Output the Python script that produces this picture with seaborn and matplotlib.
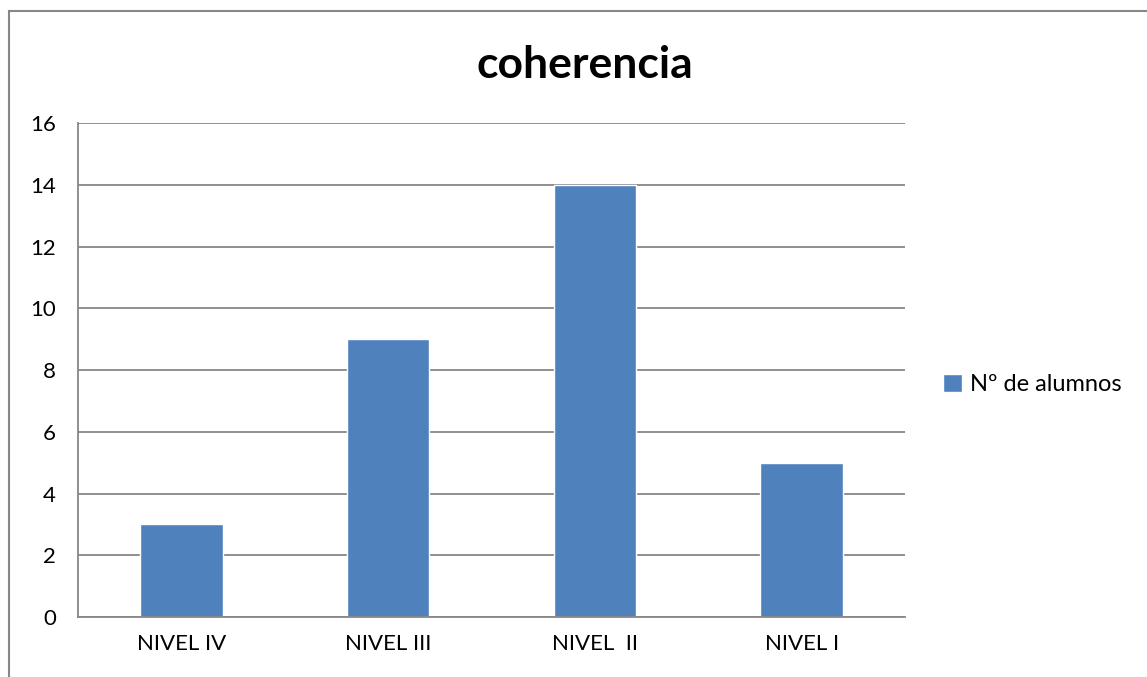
import matplotlib
matplotlib.use("Agg")
import matplotlib.pyplot as plt
import seaborn as sns
import pandas as pd
from matplotlib.patches import Rectangle

# data
niveles = ["NIVEL IV", "NIVEL III", "NIVEL  II", "NIVEL I"]
alumnos = [3, 9, 14, 5]
serie = "Nº de alumnos"
titulo = "coherencia"

df = pd.DataFrame({"nivel": niveles, "alumnos": alumnos})

sns.set_style("white")
plt.rcParams["font.family"] = ["Lato", "DejaVu Sans"]
plt.rcParams["text.color"] = "black"
plt.rcParams["xtick.labelcolor"] = "black"
plt.rcParams["ytick.labelcolor"] = "black"

gris = "#878787"
azul = "#4F81BD"

fig = plt.figure(figsize=(11.47, 6.77), dpi=100)
ax = fig.add_axes([0.068, 0.0886, 0.721, 0.7297])

# outer chart border (runs off the right and bottom edges)
fig.patches.append(Rectangle((9 / 1147, -0.05), 1.2, 1 - 11 / 677 + 0.05,
                             transform=fig.transFigure, fill=False,
                             edgecolor=gris, linewidth=1.5))

sns.barplot(data=df, x="nivel", y="alumnos", color=azul, width=0.4,
            saturation=1, label=serie, ax=ax)

ax.set_ylim(0, 16)
ax.set_yticks(range(0, 17, 2))
ax.set_xlim(-0.5, len(niveles) - 0.5)
ax.yaxis.grid(True, color=gris, linewidth=1.3)
ax.set_axisbelow(True)

for s in ["top", "right"]:
    ax.spines[s].set_visible(False)
for s in ["left", "bottom"]:
    ax.spines[s].set_color(gris)
    ax.spines[s].set_linewidth(1.3)

ax.set_xticks([i - 0.5 for i in range(len(niveles) + 1)], minor=True)
ax.tick_params(axis="x", which="major", length=0, pad=12, labelsize=16)
ax.tick_params(axis="x", which="minor", length=6, width=1.3, color=gris, direction="out")
ax.tick_params(axis="y", length=6, width=1.3, color=gris, direction="out",
               labelsize=16, pad=10)
ax.set_xlabel("")
ax.set_ylabel("")

fig.text(0.51, 0.904, titulo, ha="center", va="center", fontsize=32, fontweight="bold")

ax.legend(loc="center left", bbox_to_anchor=(1.02, 0.47), frameon=False,
          fontsize=17, handlelength=0.8, handleheight=0.8, handletextpad=0.35)

fig.savefig("out.png", dpi=100, facecolor="white")
